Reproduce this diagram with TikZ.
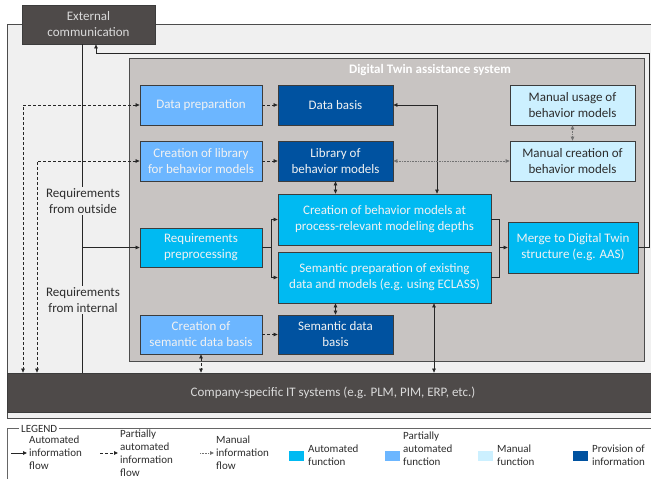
\documentclass[tikz,border=0pt]{standalone}
\usepackage{fontspec}
\setmainfont{Carlito}
\usetikzlibrary{arrows.meta}
\definecolor{darkbox}{RGB}{78,74,73}
\definecolor{framebg}{RGB}{240,240,240}
\definecolor{sysbg}{RGB}{200,196,194}
\definecolor{autoc}{RGB}{0,186,242}
\definecolor{partc}{RGB}{108,182,255}
\definecolor{manc}{RGB}{204,240,255}
\definecolor{provc}{RGB}{0,82,160}
\definecolor{edgec}{RGB}{60,60,60}
\definecolor{txtlight}{RGB}{242,242,242}
\definecolor{txtdark}{RGB}{45,45,45}
\begin{document}
\begin{tikzpicture}[x=1pt,y=-1pt,
  box/.style={draw=edgec, line width=0.8pt, align=center, inner sep=0pt, font=\fontsize{13}{16}\selectfont},
  autobox/.style={box, fill=autoc, text=txtlight},
  partbox/.style={box, fill=partc, text=txtlight},
  manbox/.style={box, fill=manc, text=txtdark},
  provbox/.style={box, fill=provc, text=txtlight},
  darkbar/.style={box, fill=darkbox, text=txtlight!90!black},
  conn/.style={line width=0.7pt, draw=black!85},
  pa/.style={conn, dash pattern=on 3pt off 2pt},
  ma/.style={line width=0.8pt, draw=black!55, dash pattern=on 0.8pt off 0.8pt},
  arr/.style={-{Triangle[length=4pt,width=3.6pt]}},
  arrboth/.style={{Triangle[length=4pt,width=3.6pt]}-{Triangle[length=4pt,width=3.6pt]}},
  lbl/.style={fill=framebg, align=center, text=txtdark, inner sep=1pt, font=\fontsize{13}{16}\selectfont},
  legtxt/.style={align=left, anchor=west, text=txtdark, inner sep=0pt, font=\fontsize{11}{13}\selectfont},
  swatch/.style={minimum width=15, minimum height=10, inner sep=0pt}
]
\useasboundingbox (0,0) rectangle (651,479);
\clip (0,0) rectangle (651,479);
\fill[white] (0,0) rectangle (651,479);

% frames
\node[draw=black!70, line width=0.8pt, fill=framebg, minimum width=660, minimum height=394, inner sep=0pt, anchor=north west] (outer) at (7,24) {};
\node[draw=black!70, line width=0.8pt, fill=sysbg, minimum width=515, minimum height=303, inner sep=0pt, anchor=north west] (sys) at (129,58) {};
\node[text=white, font=\bfseries\fontsize{13}{16}\selectfont] (title) at (430,70) {Digital Twin assistance system};

% nodes
\node[darkbar, minimum width=133, minimum height=39] (ext) at (88.5,24.5) {External\\communication};
\node[darkbar, minimum width=660, minimum height=39] (it) at (337,392.5) {};
\node[text=txtlight!90!black, font=\fontsize{13}{16}\selectfont] (ittxt) at (333,392.5) {Company-specific IT systems (e.g. PLM, PIM, ERP, etc.)};

\node[partbox, minimum width=122, minimum height=40] (dp) at (201,105) {Data preparation};
\node[provbox, minimum width=115, minimum height=40] (db) at (335.5,105) {Data basis};
\node[manbox, minimum width=125, minimum height=40] (mu) at (572.5,105) {Manual usage of\\behavior models};

\node[partbox, minimum width=122, minimum height=40] (cl) at (201,161) {Creation of library\\for behavior models};
\node[provbox, minimum width=115, minimum height=40] (lib) at (335.5,161) {Library of\\behavior models};
\node[manbox, minimum width=125, minimum height=40] (mc) at (572.5,161) {Manual creation of\\behavior models};

\node[autobox, minimum width=122, minimum height=39] (rp) at (201,247.5) {Requirements\\preprocessing};
\node[autobox, minimum width=213, minimum height=51] (cbm) at (384.5,219.5) {Creation of behavior models at\\process-relevant modeling depths};
\node[autobox, minimum width=213, minimum height=51] (sp) at (384.5,277.5) {Semantic preparation of existing\\data and models (e.g. using ECLASS)};
\node[autobox, minimum width=130, minimum height=51] (merge) at (573,247.5) {Merge to Digital Twin\\structure (e.g. AAS)};

\node[partbox, minimum width=122, minimum height=39] (csd) at (201,334.5) {Creation of\\semantic data basis};
\node[provbox, minimum width=115, minimum height=39] (sdb) at (335.5,334.5) {Semantic data\\basis};

% helper coordinates
\coordinate (xe) at (82,0);
\coordinate (xd1) at (23,0);
\coordinate (xd2) at (37,0);
\coordinate (xv) at (434,0);
\coordinate (xw) at (437,0);
\coordinate (xs) at (271,0);
\coordinate (xm) at (499,0);
\coordinate (xr) at (649,0);
\coordinate (yt) at (0,53);
\coordinate (xt) at (96,0);

% connectors
\draw[conn] (ext.south -| xe) -- (it.north -| xe);
\draw[conn, arr] (rp.west -| xe) -- (rp.west);
\node[lbl] (rfo) at (83,201) {Requirements\\from outside};
\node[lbl] (rfi) at (83,300) {Requirements\\from internal};

\draw[pa, arrboth] (dp.west) -| (xd1 |- it.north);
\draw[pa, arrboth] (cl.west) -| (xd2 |- it.north);

\draw[pa, arr] (dp.east) -- (db.west);
\draw[pa, arr] (cl.east) -- (lib.west);
\draw[pa, arr] (csd.east) -- (sdb.west);
\draw[pa, arrboth] (csd.south) -- (csd.south |- it.north);

\draw[conn, arrboth] (sp.south -| xv) -- (it.north -| xv);
\draw[conn, arrboth] (db.east) -| (cbm.north -| xw);
\draw[ma, arrboth] (lib.east) -- (mc.west);
\draw[ma, arrboth] (mu.south) -- (mc.north);
\draw[conn, arrboth] (lib.south) -- (lib.south |- cbm.north);
\draw[conn, arrboth] (sdb.north) -- (sdb.north |- sp.south);

\draw[conn] (rp.east) -- (rp.east -| xs);
\draw[conn, arr] (rp.east -| xs) |- (cbm.west);
\draw[conn, arr] (rp.east -| xs) |- (sp.west);

\draw[conn] (cbm.east) -| (xm |- sp.east) -- (sp.east);
\draw[conn, arr] (xm |- merge.west) -- (merge.west);

\draw[conn, arr] (merge.east) -| (xr |- yt) -| (ext.south -| xt);

% legend
\draw[black!60, line width=0.8pt] (7,485) -- (7,428) -- (660,428);
\node[fill=white, inner xsep=2pt, inner ysep=0pt, anchor=west, text=txtdark, font=\fontsize{11}{13}\selectfont] (legend) at (19,429) {LEGEND};

\coordinate (la1) at (11,453); \coordinate (la2) at (27,453);
\draw[conn, line width=1pt, arr] (la1) -- (la2);
\node[legtxt] (lt1) at (29,453) {Automated\\information\\flow};

\coordinate (lb1) at (100,453); \coordinate (lb2) at (118,453);
\draw[pa, line width=1pt, arr] (lb1) -- (lb2);
\node[legtxt] (lt2) at (120,453.5) {Partially\\automated\\information\\flow};

\coordinate (lc1) at (200,453); \coordinate (lc2) at (214,453);
\draw[ma, line width=1pt, arr] (lc1) -- (lc2);
\node[legtxt] (lt3) at (216,453) {Manual\\information\\flow};

\node[swatch, fill=autoc] (sw1) at (296,455.5) {};
\node[legtxt] (lt4) at (308,455) {Automated\\function};
\node[swatch, fill=partc] (sw2) at (392.5,455.5) {};
\node[legtxt] (lt5) at (403,448.5) {Partially\\automated\\function};
\node[swatch, fill=manc] (sw3) at (485.5,455.5) {};
\node[legtxt] (lt6) at (497,455) {Manual\\function};
\node[swatch, fill=provc] (sw4) at (580.5,455.5) {};
\node[legtxt] (lt7) at (592,455) {Provision of\\information};
\end{tikzpicture}
\end{document}
